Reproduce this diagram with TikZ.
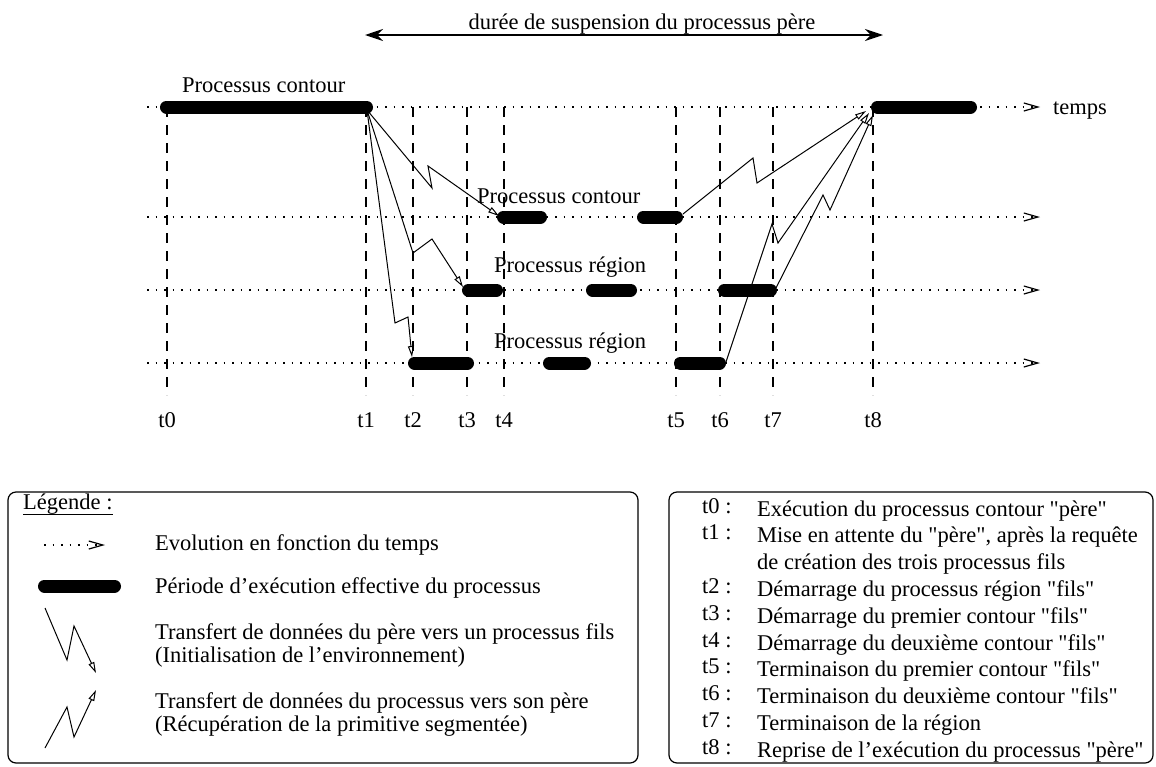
\documentclass[tikz,border=0pt]{standalone}
\usepackage{fontspec}
\setmainfont{Liberation Serif}[Ligatures=TeXOff]
\usetikzlibrary{arrows.meta}
\begin{document}
\begin{tikzpicture}[x=1pt,y=-1pt,
  txt/.style={font=\fontsize{22.5pt}{26.8pt}\selectfont, inner sep=0pt},
  bar/.style={line width=13pt, line cap=round},
  timeline/.style={line width=1.2pt, dash pattern=on 1.5pt off 7pt,
    -{Straight Barb[length=14pt,width=8pt,line width=1.2pt]}},
  tick/.style={line width=1.3pt, dash pattern=on 10pt off 8pt},
  bolt/.style={line width=1pt, line join=miter,
    -{Triangle[open,length=11pt,width=6pt,line width=1pt]}},
  span/.style={line width=1.6pt,
    {Stealth[length=18pt,width=12pt]}-{Stealth[length=18pt,width=12pt]}},
  lbox/.style={draw, line width=1.2pt, rounded corners=8pt}]
\useasboundingbox (0,0) rectangle (1156,766);

% ---- time lines
\foreach \n/\y in {0/107,1/217,2/290,3/363}{
  \coordinate (L\n) at (147,\y);
  \coordinate (R\n) at (1040,\y);
}
\draw[timeline] (L0) -- (R0);
\draw[timeline] (L1) -- (R1);
\draw[timeline] (L2) -- (R2);
\draw[timeline] (L3) -- (R3);
\node[txt, anchor=base west] (temps) at (1053,114) {temps};

% ---- instants
\foreach \t/\x in {0/167,1/366,2/413,3/467,4/504,5/676,6/720,7/773,8/873}{
  \coordinate (T\t top) at (\x,107);
  \coordinate (T\t bot) at (\x,395);
  \draw[tick] (T\t top) -- (T\t bot);
  \node[txt, anchor=base] (lab\t) at (\x,427) {t\t};
}

% ---- suspension span
\coordinate (S1) at (365,35);
\coordinate (S2) at (883,35);
\draw[span] (S1) -- (S2);
\node[txt, anchor=base] (dur) at (642,29) {durée de suspension du processus père};

% ---- execution bars
\draw[bar] (166.5,107) coordinate (b0s) -- (366.5,107) coordinate (b0e);
\draw[bar] (877.5,107) coordinate (b8s) -- (970.5,107) coordinate (b8e);
\draw[bar] (503.5,217) -- (540.5,217);
\draw[bar] (643.5,217) -- (676.5,217) coordinate (c1e);
\draw[bar] (468.5,290) -- (496.5,290);
\draw[bar] (592.5,290) -- (630.5,290);
\draw[bar] (724.5,290) -- (770.5,290) coordinate (c2e);
\draw[bar] (414.5,363) -- (467.5,363);
\draw[bar] (549.5,363) -- (584.5,363);
\draw[bar] (680.5,363) -- (719.5,363) coordinate (c3e);

% ---- row labels
\node[txt, anchor=base west] (p0) at (182,92) {Processus contour};
\node[txt, anchor=base west] (p1) at (477,203) {Processus contour};
\node[txt, anchor=base west] (p2) at (494,272) {Processus région};
\node[txt, anchor=base west] (p3) at (494,348) {Processus région};

% ---- data transfers father -> sons
\coordinate (P) at (367,110);
\coordinate (d1) at (499,216);
\coordinate (d2) at (463,287);
\coordinate (d3) at (412,357);
\draw[bolt] (P) -- (432,188) -- (428,166) -- (d1);
\draw[bolt] (P) -- (413,253) -- (432,239) -- (d2);
\draw[bolt] (P) -- (395,323) -- (408,317) -- (d3);

% ---- data transfers sons -> father
\coordinate (u1s) at (683,214);
\coordinate (u2s) at (775,290);
\coordinate (u3s) at (726,362);
\coordinate (u1) at (866,111);
\coordinate (u2) at (873,115);
\coordinate (u3) at (869,113);
\draw[bolt] (u1s) -- (753,158) -- (757,183) -- (u1);
\draw[bolt] (u2s) -- (823,195) -- (830,210) -- (u2);
\draw[bolt] (u3s) -- (772,224) -- (778,243) -- (u3);

% ---- legend (left)
\draw[lbox] (8,492) rectangle (638,763);
\node[txt, anchor=base west] (leg) at (23,509) {Légende :};
\draw[line width=1pt] (leg.south west |- 0,514) -- (leg.south east |- 0,514);
\coordinate (e1) at (44,545);
\coordinate (e2) at (105,545);
\draw[timeline] (e1) -- (e2);
\node[txt, anchor=base west] (l1) at (155,550) {Evolution en fonction du temps};
\draw[bar] (44.5,586) coordinate (f1) -- (114.5,586) coordinate (f2);
\node[txt, anchor=base west] (l2) at (155,593) {Période d’exécution effective du processus};
\coordinate (g1) at (45,608);
\coordinate (g2) at (96,673);
\draw[bolt] (g1) -- (67,660) -- (74,626) -- (g2);
\node[txt, anchor=base west] (l3) at (155,639) {Transfert de données du père vers un processus fils};
\node[txt, anchor=base west] (l4) at (155,662) {(Initialisation de l’environnement)};
\coordinate (h1) at (45,748);
\coordinate (h2) at (96,690);
\draw[bolt] (h1) -- (67,707) -- (74,737) -- (h2);
\node[txt, anchor=base west] (l5) at (155,708) {Transfert de données du processus vers son père};
\node[txt, anchor=base west] (l6) at (155,731) {(Récupération de la primitive segmentée)};

% ---- legend (right)
\draw[lbox] (669,492) rectangle (1153,763);
\foreach \k/\lab/\txtline in {
  0/{t0 :}/{Exécution du processus contour "père"},
  1/{t1 :}/{Mise en attente du "père", après la requête},
  2/{}/{de création des trois processus fils},
  3/{t2 :}/{Démarrage du processus région "fils"},
  4/{t3 :}/{Démarrage du premier contour "fils"},
  5/{t4 :}/{Démarrage du deuxième contour "fils"},
  6/{t5 :}/{Terminaison du premier contour "fils"},
  7/{t6 :}/{Terminaison du deuxième contour "fils"},
  8/{t7 :}/{Terminaison de la région},
  9/{t8 :}/{Reprise de l’exécution du processus "père"}}{
  \node[txt, anchor=base west] (k\k) at (702,{513+26.8*\k}) {\lab};
  \node[txt, anchor=base west] (d\k) at (757,{516+26.8*\k}) {\txtline};
}
\end{tikzpicture}
\end{document}
